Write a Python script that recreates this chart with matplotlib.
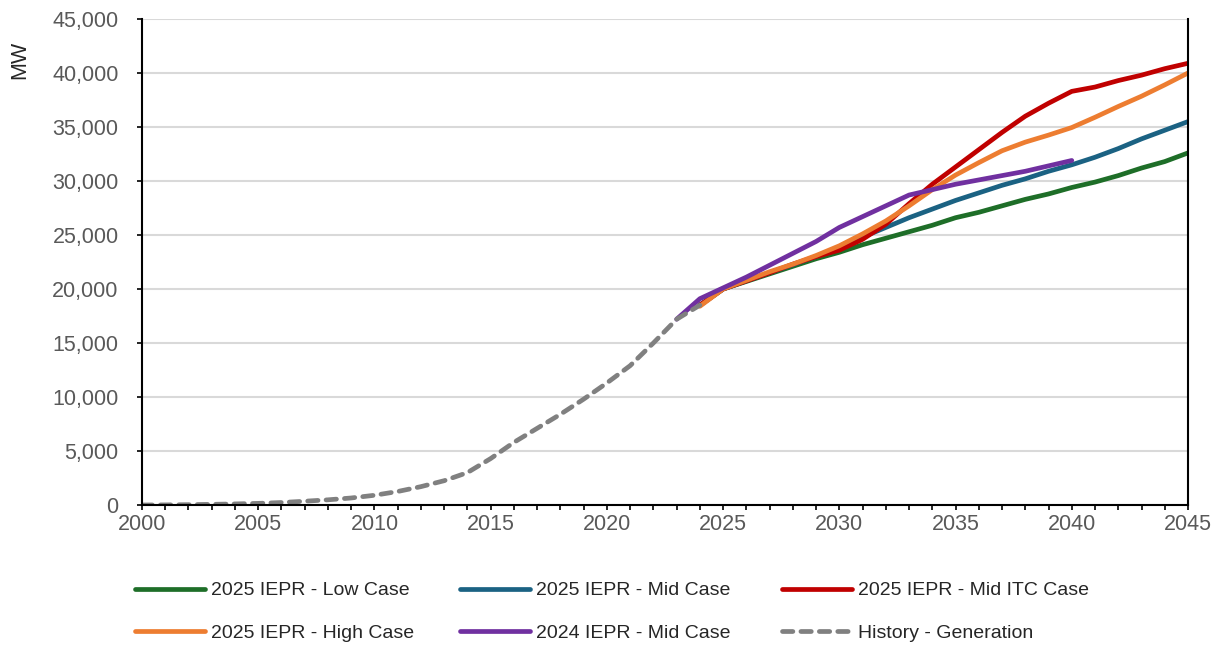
import numpy as np
import matplotlib
matplotlib.use("Agg")
import matplotlib.pyplot as plt
from matplotlib.ticker import FuncFormatter, MultipleLocator

# installed solar capacity (MW) - history and forecast cases
hist_years = list(range(2000, 2025))
hist_mw = [0, 10, 30, 60, 100, 150, 230, 350, 480, 650, 900, 1250, 1700, 2250, 3000,
           4300, 5800, 7100, 8400, 9800, 11300, 12900, 15000, 17200, 18500]

proj_years = list(range(2024, 2046))
low_case = [18500, 20000, 20700, 21400, 22100, 22800, 23400, 24100, 24700, 25300, 25900,
            26600, 27100, 27700, 28300, 28800, 29400, 29900, 30500, 31200, 31800, 32600]
mid_case = [18500, 20000, 20750, 21500, 22250, 23000, 23900, 24800, 25700, 26600, 27400,
            28200, 28900, 29600, 30200, 30900, 31500, 32200, 33000, 33900, 34700, 35500]
mid_itc_case = [18500, 20000, 20750, 21500, 22300, 23000, 23600, 24600, 26000, 27900, 29700,
                31300, 32900, 34500, 36000, 37200, 38300, 38700, 39300, 39800, 40400, 40900]
high_case = [18400, 20000, 20800, 21600, 22300, 23100, 24000, 25100, 26300, 27700, 29200,
             30550, 31700, 32800, 33600, 34250, 34950, 35900, 36900, 37850, 38900, 40000]

iepr24_years = list(range(2023, 2041))
iepr24_mid = [17200, 19100, 20100, 21100, 22200, 23300, 24400, 25700, 26700, 27700, 28700,
              29200, 29700, 30100, 30500, 30900, 31400, 31900]

W, H = 1218, 647
fig = plt.figure(figsize=(W / 100, H / 100), dpi=100)
ax = fig.add_axes([142 / W, 1 - 505 / H, (1188 - 142) / W, (505 - 19) / H])

lw = 3.4
ax.plot(proj_years, low_case, color="#1E6E28", lw=lw, label="2025 IEPR - Low Case", solid_capstyle="round")
ax.plot(proj_years, mid_case, color="#1B6283", lw=lw, label="2025 IEPR - Mid Case", solid_capstyle="round")
ax.plot(proj_years, mid_itc_case, color="#C00000", lw=lw, label="2025 IEPR - Mid ITC Case", solid_capstyle="round")
ax.plot(proj_years, high_case, color="#ED7D31", lw=lw, label="2025 IEPR - High Case", solid_capstyle="round")
ax.plot(iepr24_years, iepr24_mid, color="#7030A0", lw=lw, label="2024 IEPR - Mid Case", solid_capstyle="round")
ax.plot(hist_years, hist_mw, color="#808080", lw=lw, ls=(0, (2.2, 1.7)), dash_capstyle="round",
        label="History - Generation")

ax.set_xlim(2000, 2045)
ax.set_ylim(0, 45000)
ax.xaxis.set_major_locator(MultipleLocator(5))
ax.xaxis.set_minor_locator(MultipleLocator(1))
ax.yaxis.set_major_locator(MultipleLocator(5000))
ax.yaxis.set_major_formatter(FuncFormatter(lambda v, p: f"{int(v):,}"))

ax.grid(axis="y", color="#D9D9D9", lw=1.5)
ax.set_axisbelow(True)
for side in ["left", "bottom", "right"]:
    ax.spines[side].set_color("black")
    ax.spines[side].set_linewidth(1.5)
ax.spines["top"].set_visible(False)

tick_font = 15.5
ax.tick_params(axis="both", which="both", direction="out", color="black", width=1.2, length=3.8)
ax.tick_params(axis="x", which="major", labelsize=tick_font, labelcolor="#595959", pad=3,
               labelfontfamily="Liberation Sans")
ax.tick_params(axis="y", which="major", labelsize=tick_font, labelcolor="#595959", pad=13,
               labelfontfamily="Liberation Sans")

fig.text(20 / W, 1 - 60 / H, "MW", rotation=90, ha="center", va="center", fontsize=tick_font,
         color="#262626", family="Liberation Sans")

# legend in three separately placed columns
handles, labels = ax.get_legend_handles_labels()
cols = [[0, 3], [1, 4], [2, 5]]
col_x = [127, 452, 774]
for cx, idx in zip(col_x, cols):
    leg = fig.legend([handles[i] for i in idx], [labels[i] for i in idx],
                     loc="upper left", bbox_to_anchor=(cx / W, 1 - 574 / H),
                     frameon=False, handlelength=3.6, handletextpad=0.3,
                     labelspacing=1.3, borderaxespad=0,
                     prop={"family": ["Liberation Sans Narrow", "Liberation Sans"], "size": 14})
    for t in leg.get_texts():
        t.set_color("#262626")

fig.savefig("out.png", dpi=100)
